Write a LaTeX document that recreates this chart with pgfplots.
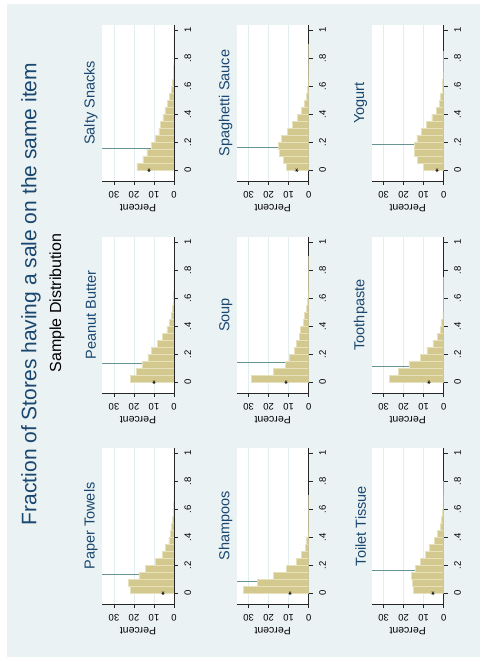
\documentclass[border=0pt]{standalone}
\usepackage{graphicx}
\usepackage{fontspec}
\setmainfont{Liberation Sans}
\usepackage{pgfplots}
\pgfplotsset{compat=1.18}
\definecolor{bgblue}{RGB}{234,242,243}
\definecolor{navy}{RGB}{26,71,111}
\definecolor{barfill}{RGB}{211,200,141}
\definecolor{barline}{RGB}{232,226,188}
\definecolor{meanline}{RGB}{105,148,148}
\definecolor{gridc}{RGB}{228,237,240}
\pgfplotsset{
  panel/.style={
    scale only axis, width=156pt, height=72pt,
    xmin=-0.077, xmax=1.037, ymin=0, ymax=36,
    axis x line*=bottom, axis y line*=left,
    axis line style={black!85, line width=0.6pt},
    tick align=outside, major tick length=4pt,
    tick style={black!85, line width=0.6pt},
    xtick={0,0.2,0.4,0.6,0.8,1}, xticklabels={0,.2,.4,.6,.8,1},
    ytick={0,10,20,30}, yticklabels={0,10,20,30},
    ymajorgrids, grid style={gridc, line width=0.6pt},
    axis background/.style={fill=white},
    /pgf/number format/assume math mode=true,
    ticklabel style={font=\fontsize{9.5}{10}\selectfont},
    xticklabel shift=3pt, yticklabel shift=3pt,
    yticklabel style={rotate=90, anchor=south},
    ylabel={Percent},
    ylabel style={font=\fontsize{10.5}{11}\selectfont, at={(axis description cs:-0.172,0.5)}, anchor=center},
    title style={font=\fontsize{14.5}{16}\selectfont, text=navy, at={(axis description cs:0.5,1)}, anchor=center, yshift=5pt},
  }
}
\newcommand{\panel}[6]{%
\begin{axis}[panel, at={(#1pt,#2pt)}, anchor=south west, title={#3}]
\addplot[meanline, line width=0.8pt] coordinates {(#5,0) (#5,36)};
\addplot[ybar interval, fill=barfill, draw=barline, line width=0.4pt] coordinates {#4};
\addplot[only marks, mark=asterisk, mark size=2pt, black, mark options={line width=0.35pt}] coordinates {(0,#6)};
\end{axis}}
\begin{document}
\rotatebox{90}{%
\begin{tikzpicture}[x=1pt,y=1pt]
\fill[white] (0,0) rectangle (657,480);
\fill[bgblue] (0,0) rectangle (653,473);
\node[text=navy, font=\fontsize{21}{24}\selectfont] at (363,449) {Fraction of Stores having a sale on the same item};
\node[text=black, font=\fontsize{16}{18}\selectfont] at (354,423) {Sample Distribution};
% top row
\panel{53}{306}{Paper Towels}{(0,21.8)(0.05,22.7)(0.1,17.5)(0.15,14.2)(0.2,9.3)(0.25,5.8)(0.3,4.2)(0.35,2.5)(0.4,1.7)(0.45,1.2)(0.5,0.7)(0.55,0.3)(0.6,0.2)(0.65,0.1)(0.7,0.1)(0.75,0.05)(0.8,0)}{0.131}{5.5}
\panel{264}{306}{Peanut Butter}{(0,21.7)(0.05,18.8)(0.1,16.0)(0.15,13.0)(0.2,11.2)(0.25,8.2)(0.3,5.7)(0.35,3.5)(0.4,2.2)(0.45,1.2)(0.5,0.7)(0.55,0.3)(0.6,0.2)(0.65,0.1)(0.7,0.1)(0.75,0.05)(0.8,0)}{0.133}{10}
\panel{476}{306}{Salty Snacks}{(0,18.5)(0.05,15.5)(0.1,13.5)(0.15,11.3)(0.2,9.2)(0.25,7.5)(0.3,6.8)(0.35,5.5)(0.4,4.5)(0.45,3.3)(0.5,2.3)(0.55,1.3)(0.6,0.8)(0.65,0.3)(0.7,0.15)(0.75,0.1)(0.8,0.05)(0.85,0.05)(0.9,0.05)(0.95,0)}{0.156}{12.5}
% middle row
\panel{53}{171.3}{Shampoos}{(0,32.7)(0.05,25.7)(0.1,17.7)(0.15,11.0)(0.2,6.3)(0.25,3.5)(0.3,1.8)(0.35,1.0)(0.4,0.4)(0.45,0.2)(0.5,0.1)(0.55,0.1)(0.6,0.05)(0.65,0.05)(0.7,0)}{0.083}{9.3}
\panel{264}{171.3}{Soup}{(0,28.8)(0.05,17.7)(0.1,11.8)(0.15,9.7)(0.2,7.2)(0.25,6.0)(0.3,4.8)(0.35,4.0)(0.4,2.7)(0.45,2.0)(0.5,1.3)(0.55,0.7)(0.6,0.3)(0.65,0.2)(0.7,0.1)(0.75,0.1)(0.8,0.05)(0.85,0.05)(0.9,0)}{0.138}{11.3}
\panel{476}{171.3}{Spaghetti Sauce}{(0,11.2)(0.05,12.8)(0.1,14.7)(0.15,15.3)(0.2,13.8)(0.25,10.7)(0.3,8.2)(0.35,5.5)(0.4,3.7)(0.45,2.2)(0.5,1.3)(0.55,0.7)(0.6,0.3)(0.65,0.15)(0.7,0.1)(0.75,0.05)(0.8,0.05)(0.85,0.05)(0.9,0)}{0.163}{6}
% bottom row
\panel{53}{36.3}{Toilet Tissue}{(0,15.2)(0.05,15.7)(0.1,16.2)(0.15,14.1)(0.2,11.6)(0.25,9.2)(0.3,7.0)(0.35,4.8)(0.4,3.3)(0.45,1.5)(0.5,1.0)(0.55,0.5)(0.6,0.2)(0.65,0.1)(0.7,0.05)(0.75,0.05)(0.8,0)}{0.164}{5.4}
\panel{264}{36.3}{Toothpaste}{(0,27.2)(0.05,22.8)(0.1,17.0)(0.15,11.8)(0.2,8.4)(0.25,5.4)(0.3,3.1)(0.35,1.8)(0.4,1.0)(0.45,0.4)(0.5,0.2)(0.55,0.1)(0.6,0.1)(0.65,0.05)(0.7,0.05)(0.75,0)}{0.114}{7.4}
\panel{476}{36.3}{Yogurt}{(0,10.0)(0.05,13.3)(0.1,14.6)(0.15,14.6)(0.2,13.4)(0.25,11.3)(0.3,8.7)(0.35,5.9)(0.4,3.6)(0.45,2.3)(0.5,1.5)(0.55,0.8)(0.6,0.5)(0.65,0.3)(0.7,0.15)(0.75,0.1)(0.8,0.05)(0.85,0)}{0.187}{3.3}
\end{tikzpicture}}
\end{document}
